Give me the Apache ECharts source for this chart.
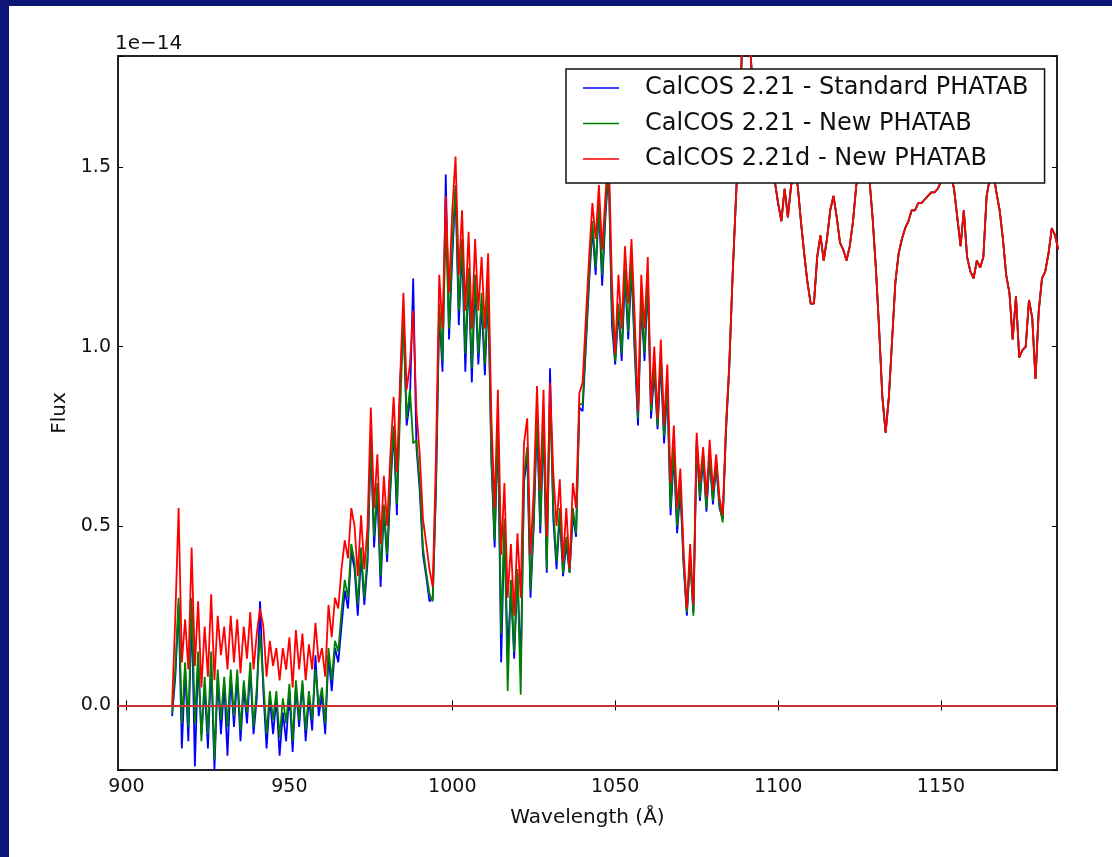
<!DOCTYPE html>
<html>
<head>
<meta charset="utf-8">
<script src="https://cdn.jsdelivr.net/npm/echarts/dist/echarts.min.js"></script>
<style>
  html, body { margin: 0; padding: 0; width: 1112px; height: 857px; overflow: hidden; background: #0b1677; }
  #panel { position: absolute; left: 9px; top: 6px; right: 0; bottom: 0; background: #ffffff; }
  #chart { position: absolute; left: 0; top: 0; width: 1112px; height: 857px; }
</style>
</head>
<body>
<div id="panel"></div>
<div id="chart"></div>
<script>
// Wavelength grid (Angstrom): one sample per Angstrom starting at WAVE_START.
const WAVE_START = 914;
const WAVE_STEP = 1;

// Flux in units of 1e-14, 914-1087 A, one array per calibration run.
const fluxStandard221 = [
  -0.03, 0.08, 0.28, -0.12, 0.10, -0.10, 0.27, -0.17, 0.13, -0.08,
  0.05, -0.12, 0.12, -0.18, 0.08, -0.08, 0.06, -0.14, 0.08, -0.06,
  0.08, -0.10, 0.05, -0.05, 0.10, -0.08, 0.02, 0.29, 0.04, -0.12,
  0.02, -0.08, 0.02, -0.14, -0.02, -0.10, 0.04, -0.13, 0.05, -0.06,
  0.06, -0.10, 0.02, -0.07, 0.14, -0.03, 0.03, -0.08, 0.14, 0.04,
  0.16, 0.12, 0.22, 0.32, 0.27, 0.43, 0.38, 0.25, 0.42, 0.28,
  0.40, 0.74, 0.44, 0.60, 0.33, 0.55, 0.40, 0.60, 0.77, 0.53,
  0.90, 1.08, 0.78, 0.85, 1.19, 0.72, 0.60, 0.42, 0.36, 0.29,
  0.30, 0.60, 1.10, 0.93, 1.48, 1.02, 1.25, 1.44, 1.06, 1.28,
  0.93, 1.20, 0.90, 1.18, 0.95, 1.12, 0.92, 1.16, 0.68, 0.44,
  0.78, 0.12, 0.50, 0.14, 0.33, 0.13, 0.37, 0.10, 0.62, 0.70,
  0.30, 0.50, 0.80, 0.48, 0.78, 0.37, 0.94, 0.52, 0.38, 0.53,
  0.36, 0.45, 0.37, 0.53, 0.47, 0.83, 0.82, 1.00, 1.18, 1.33,
  1.20, 1.39, 1.17, 1.36, 1.50, 1.06, 0.95, 1.10, 0.96, 1.20,
  1.02, 1.22, 0.98, 0.78, 1.12, 0.96, 1.18, 0.80, 0.93, 0.77,
  0.96, 0.73, 0.88, 0.53, 0.70, 0.48, 0.60, 0.39, 0.25, 0.41,
  0.26, 0.73, 0.57, 0.69, 0.54, 0.69, 0.56, 0.67, 0.55, 0.52,
  0.76, 0.94, 1.19, 1.40
];

const fluxNew221 = [
  -0.02, 0.10, 0.30, -0.05, 0.12, -0.06, 0.30, -0.05, 0.15, -0.10,
  0.08, -0.08, 0.15, -0.15, 0.10, -0.04, 0.08, -0.06, 0.10, -0.03,
  0.10, -0.07, 0.07, -0.02, 0.12, -0.06, 0.05, 0.20, 0.07, -0.08,
  0.04, -0.04, 0.04, -0.09, 0.02, -0.05, 0.06, -0.10, 0.07, -0.04,
  0.07, -0.07, 0.04, -0.04, 0.10, 0.00, 0.05, -0.05, 0.16, 0.07,
  0.18, 0.15, 0.26, 0.35, 0.30, 0.45, 0.40, 0.28, 0.44, 0.30,
  0.42, 0.75, 0.47, 0.62, 0.36, 0.56, 0.42, 0.62, 0.78, 0.56,
  0.82, 1.08, 0.80, 0.88, 0.73, 0.74, 0.62, 0.44, 0.37, 0.31,
  0.29, 0.62, 1.12, 0.96, 1.35, 1.05, 1.28, 1.45, 1.10, 1.30,
  0.98, 1.22, 0.94, 1.20, 0.98, 1.15, 0.95, 1.18, 0.70, 0.46,
  0.80, 0.20, 0.52, 0.04, 0.35, 0.15, 0.38, 0.03, 0.64, 0.72,
  0.32, 0.52, 0.82, 0.50, 0.80, 0.38, 0.86, 0.55, 0.40, 0.55,
  0.37, 0.47, 0.37, 0.55, 0.48, 0.84, 0.84, 1.02, 1.20, 1.35,
  1.22, 1.40, 1.20, 1.38, 1.50, 1.10, 0.96, 1.12, 0.98, 1.22,
  1.04, 1.24, 1.00, 0.80, 1.14, 0.98, 1.20, 0.82, 0.95, 0.78,
  0.98, 0.75, 0.90, 0.55, 0.72, 0.50, 0.62, 0.40, 0.26, 0.42,
  0.25, 0.74, 0.58, 0.70, 0.55, 0.70, 0.57, 0.68, 0.56, 0.51,
  0.77, 0.94, 1.19, 1.40
];

const fluxNew221d = [
  0.00, 0.25, 0.55, 0.12, 0.24, 0.10, 0.44, 0.11, 0.29, 0.05,
  0.22, 0.08, 0.31, 0.07, 0.25, 0.14, 0.22, 0.10, 0.25, 0.12,
  0.24, 0.09, 0.22, 0.13, 0.26, 0.10, 0.20, 0.27, 0.22, 0.08,
  0.18, 0.11, 0.16, 0.07, 0.16, 0.10, 0.19, 0.05, 0.21, 0.10,
  0.20, 0.07, 0.17, 0.10, 0.23, 0.12, 0.16, 0.08, 0.28, 0.19,
  0.30, 0.27, 0.38, 0.46, 0.41, 0.55, 0.50, 0.36, 0.53, 0.38,
  0.50, 0.83, 0.55, 0.70, 0.45, 0.64, 0.50, 0.70, 0.86, 0.65,
  0.91, 1.15, 0.88, 0.95, 1.10, 0.82, 0.70, 0.52, 0.45, 0.38,
  0.33, 0.70, 1.20, 1.05, 1.42, 1.15, 1.38, 1.53, 1.20, 1.38,
  1.10, 1.32, 1.05, 1.30, 1.10, 1.25, 1.05, 1.26, 0.80, 0.55,
  0.88, 0.42, 0.62, 0.30, 0.45, 0.25, 0.48, 0.30, 0.73, 0.80,
  0.42, 0.60, 0.89, 0.60, 0.88, 0.47, 0.90, 0.65, 0.50, 0.63,
  0.40, 0.55, 0.38, 0.62, 0.55, 0.87, 0.90, 1.08, 1.25, 1.40,
  1.30, 1.45, 1.27, 1.42, 1.55, 1.18, 0.98, 1.20, 1.05, 1.28,
  1.12, 1.30, 1.08, 0.82, 1.20, 1.05, 1.25, 0.84, 1.00, 0.80,
  1.02, 0.78, 0.95, 0.62, 0.78, 0.55, 0.66, 0.43, 0.27, 0.45,
  0.28, 0.76, 0.62, 0.72, 0.58, 0.74, 0.60, 0.70, 0.58, 0.53,
  0.78, 0.95, 1.19, 1.40
];

// 1088-1186 A: all three runs agree here.
const fluxTail = [
  1.60, 1.85, 1.95, 1.90, 1.75, 1.66, 1.62, 1.60, 1.57, 1.55,
  1.50, 1.46, 1.40, 1.35, 1.44, 1.36, 1.45, 1.48, 1.45, 1.35,
  1.26, 1.18, 1.12, 1.12, 1.25, 1.31, 1.24, 1.30, 1.38, 1.42,
  1.36, 1.29, 1.27, 1.24, 1.28, 1.35, 1.45, 1.50, 1.52, 1.50,
  1.47, 1.36, 1.22, 1.05, 0.86, 0.76, 0.86, 1.02, 1.18, 1.26,
  1.30, 1.33, 1.35, 1.38, 1.38, 1.40, 1.40, 1.41, 1.42, 1.43,
  1.43, 1.44, 1.46, 1.48, 1.50, 1.48, 1.44, 1.36, 1.28, 1.38,
  1.25, 1.21, 1.19, 1.24, 1.22, 1.25, 1.42, 1.47, 1.49, 1.43,
  1.38, 1.30, 1.20, 1.15, 1.02, 1.14, 0.97, 0.99, 1.00, 1.13,
  1.08, 0.91, 1.10, 1.19, 1.21, 1.26, 1.33, 1.31, 1.27
];

const seriesNames = [
  'CalCOS 2.21 - Standard PHATAB',
  'CalCOS 2.21 - New PHATAB',
  'CalCOS 2.21d - New PHATAB'
];
const seriesColors = ['#0000ff', '#008000', '#ff0000'];
const zeroLineColors = ['#0000ff', '#008000', '#cc3333'];
const seriesFlux = [fluxStandard221, fluxNew221, fluxNew221d];

// Axis ranges (flux axis in units of 1e-14)
const xRange = [897.4, 1185.6];
const yRange = [-0.18, 1.81];

const FONT = '"DejaVu Sans", "Bitstream Vera Sans", sans-serif';
const TEXT_COLOR = '#111';

function toPoints(head) {
  return head.concat(fluxTail).map((v, i) => [WAVE_START + i * WAVE_STEP, v]);
}

const series = seriesFlux.map((flux, k) => ({
  name: seriesNames[k],
  type: 'line',
  data: toPoints(flux),
  symbol: 'none',
  showSymbol: false,
  clip: true,
  lineStyle: { color: seriesColors[k], width: 1.8 },
  itemStyle: { color: seriesColors[k] },
  emphasis: { disabled: true },
  markLine: {
    silent: true,
    symbol: ['none', 'none'],
    label: { show: false },
    lineStyle: { color: zeroLineColors[k], width: 1.8, type: 'solid' },
    data: [{ yAxis: 0 }]
  }
}));

const tickCommon = {
  show: true,
  inside: true,
  length: 5,
  lineStyle: { color: '#000', width: 1 }
};

const chart = echarts.init(document.getElementById('chart'), null, { renderer: 'canvas' });
chart.setOption({
  animation: false,
  backgroundColor: 'transparent',
  textStyle: { fontFamily: FONT },
  grid: {
    left: 118, right: 55, top: 56, bottom: 87,
    show: true, borderColor: '#222', borderWidth: 2,
    backgroundColor: '#fff',
    containLabel: false
  },
  legend: {
    left: 566, top: 69,
    orient: 'vertical',
    data: seriesNames.map(n => ({ name: n, icon: 'rect' })),
    selectedMode: false,
    itemWidth: 36, itemHeight: 1.5, itemGap: 9.5,
    padding: [6, 16, 11, 17],
    backgroundColor: '#fff',
    borderColor: '#111', borderWidth: 1.5, borderRadius: 0,
    textStyle: { fontFamily: FONT, fontSize: 24, color: TEXT_COLOR, lineHeight: 26, padding: [0, 0, 0, 21] }
  },
  graphic: [{
    type: 'text', left: 115, top: 34,
    style: { text: '1e\u221214', fontFamily: FONT, fontSize: 20, fill: TEXT_COLOR }
  }],
  xAxis: [{
    type: 'value', position: 'bottom',
    min: xRange[0], max: xRange[1], splitNumber: 5,
    axisLine: { show: false },
    axisTick: tickCommon,
    splitLine: { show: false },
    axisLabel: {
      fontFamily: FONT, fontSize: 19, color: TEXT_COLOR, margin: 8,
      formatter: v => (Math.abs(v / 50 - Math.round(v / 50)) < 1e-6 ? String(Math.round(v)) : '')
    },
    name: 'Wavelength (\u00c5)', nameLocation: 'middle', nameGap: 38, nameMoveOverlap: false,
    nameTextStyle: { fontFamily: FONT, fontSize: 20, color: TEXT_COLOR }
  }, {
    type: 'value', position: 'top',
    min: xRange[0], max: xRange[1], splitNumber: 5,
    axisLine: { show: false },
    axisTick: tickCommon,
    splitLine: { show: false },
    axisLabel: { show: false }
  }],
  yAxis: [{
    type: 'value', position: 'left',
    min: yRange[0], max: yRange[1], splitNumber: 4,
    axisLine: { show: false },
    axisTick: tickCommon,
    splitLine: { show: false },
    axisLabel: {
      fontFamily: FONT, fontSize: 19, color: TEXT_COLOR, margin: 7,
      formatter: v => (Math.abs(v * 2 - Math.round(v * 2)) < 1e-6 ? (Math.round(v * 2) / 2).toFixed(1) : '')
    },
    name: 'Flux', nameLocation: 'middle', nameGap: 48, nameMoveOverlap: false,
    nameTextStyle: { fontFamily: FONT, fontSize: 20, color: TEXT_COLOR }
  }, {
    type: 'value', position: 'right',
    min: yRange[0], max: yRange[1], splitNumber: 4,
    axisLine: { show: false },
    axisTick: tickCommon,
    splitLine: { show: false },
    axisLabel: { show: false }
  }],
  series: series
});
</script>
</body>
</html>
